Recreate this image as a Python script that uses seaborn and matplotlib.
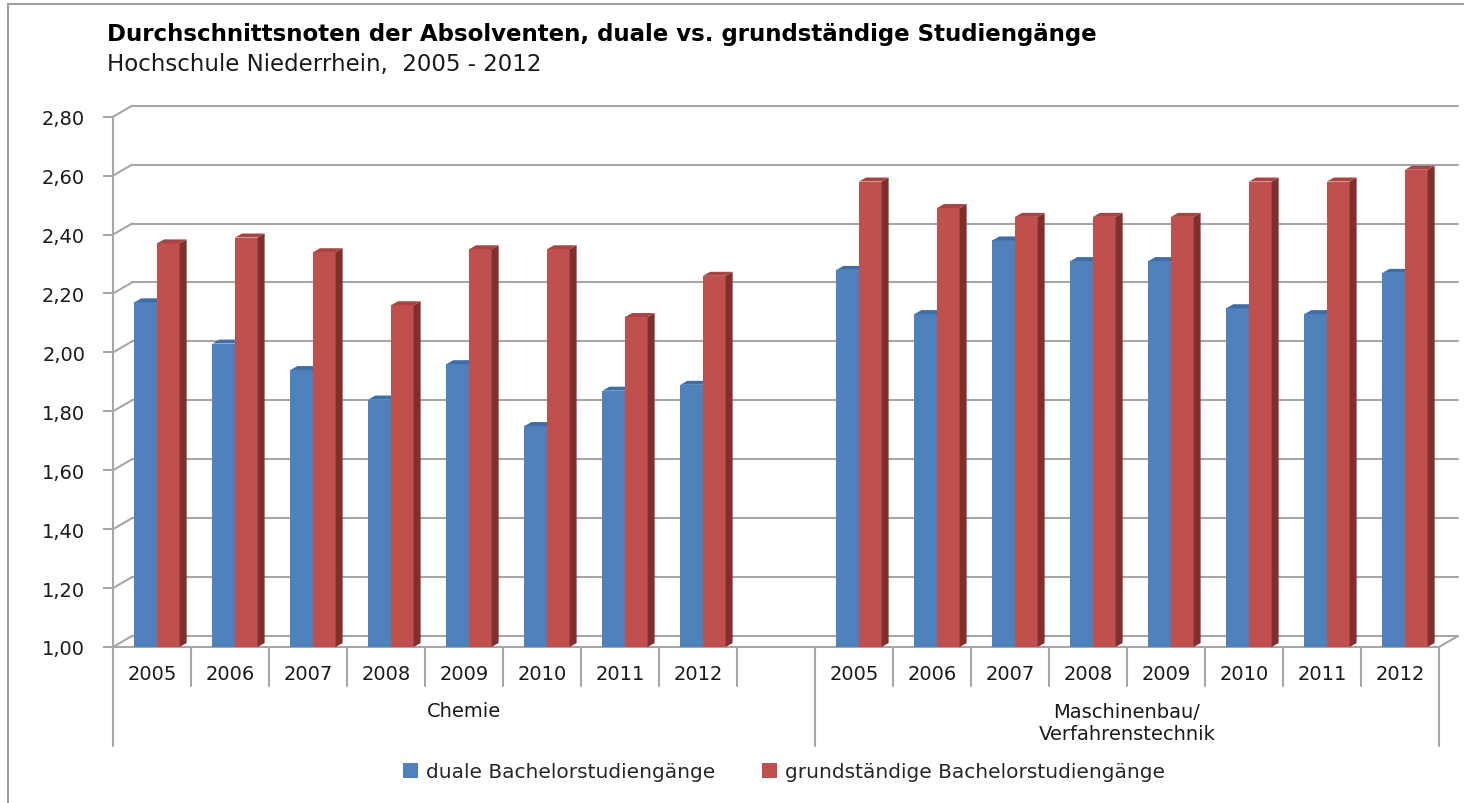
import pandas as pd
import matplotlib
matplotlib.use("Agg")
import matplotlib.pyplot as plt
import seaborn as sns
from matplotlib.patches import Polygon, Patch

# Daten
years = ["2005", "2006", "2007", "2008", "2009", "2010", "2011", "2012"]
programs = ["Chemie", "Maschinenbau/\nVerfahrenstechnik"]
series = ["duale Bachelorstudiengänge", "grundständige Bachelorstudiengänge"]
chemie_dual = [2.17, 2.03, 1.94, 1.84, 1.96, 1.75, 1.87, 1.89]
chemie_grund = [2.37, 2.39, 2.34, 2.16, 2.35, 2.35, 2.12, 2.26]
mb_dual = [2.28, 2.13, 2.38, 2.31, 2.31, 2.15, 2.13, 2.27]
mb_grund = [2.58, 2.49, 2.46, 2.46, 2.46, 2.58, 2.58, 2.62]
y_ticks = [1.0, 1.2, 1.4, 1.6, 1.8, 2.0, 2.2, 2.4, 2.6, 2.8]

colors = ["#4F81BD", "#C0504D"]
side_colors = ["#385D8A", "#7F302E"]
top_colors = ["#3F6EA6", "#A84441"]
grid_col = "#A6A6A6"

# Tabelle fuer seaborn, mit einer leeren Luecke zwischen den Gruppen
rows = []
for p, dual, grund in [(programs[0], chemie_dual, chemie_grund), (programs[1], mb_dual, mb_grund)]:
    for y, a, b in zip(years, dual, grund):
        rows.append({"slot": p + "|" + y, "series": series[0], "value": a})
        rows.append({"slot": p + "|" + y, "series": series[1], "value": b})
df = pd.DataFrame(rows)
order = [programs[0] + "|" + y for y in years] + ["gap"] + [programs[1] + "|" + y for y in years]

# Pixel-Geometrie
W, H = 1464, 804
X0, SLOT, Y0, UNIT = 113, 78.0, 648, 294.6


def px_x(px):
    return px / SLOT


def px_y(px):
    return px / UNIT


def y_of_pix(py):
    return 1.0 + (Y0 - py) / UNIT


sns.set_style("white")
plt.rcParams["font.family"] = ["DejaVu Sans"]

fig = plt.figure(figsize=(W / 100, H / 100), dpi=100)
ax = fig.add_axes([X0 / W, 1 - Y0 / H, 17 * SLOT / W, 1.8 * UNIT / H])

sns.barplot(data=df, x="slot", y="value", hue="series", order=order, hue_order=series,
            palette=colors, saturation=1, width=0.58, legend=False, ax=ax, zorder=3)

ax.set_xlim(-0.5, 16.5)
ax.set_ylim(1.0, 2.8)
for s in ax.spines.values():
    s.set_visible(False)

# 3D-Effekt fuer die Saeulen
ddx, ddy = px_x(7), px_y(4)
shift = px_x(5)
bars = [p for p in ax.patches if p.get_height() > 0]
for p in bars:
    fc = matplotlib.colors.to_hex(p.get_facecolor())
    k = 0 if fc.lower() == colors[0].lower() else 1
    v = p.get_height()
    x0 = p.get_x() + shift
    w = p.get_width()
    p.set_x(x0)
    p.set_y(1.0)
    p.set_height(v - 1.0)
    p.set_edgecolor("none")
    p.set_zorder(3 + k)
    side = Polygon([(x0 + w, 1.0), (x0 + w + ddx, 1.0 + ddy), (x0 + w + ddx, v + ddy), (x0 + w, v)],
                   closed=True, facecolor=side_colors[k], edgecolor="none", zorder=3 + k)
    top = Polygon([(x0, v), (x0 + w, v), (x0 + w + ddx, v + ddy), (x0 + ddx, v + ddy)],
                  closed=True, facecolor=top_colors[k], edgecolor="none", zorder=3 + k)
    ax.add_patch(side)
    ax.add_patch(top)

# Rueckwand-Gitterlinien mit Schraegen
bx, by = px_x(19), px_y(11)
for t in y_ticks:
    ax.plot([-0.5, -0.5 + bx], [t, t + by], color=grid_col, lw=1.5, clip_on=False, zorder=1)
    ax.plot([-0.5 + bx, 16.5 + bx], [t + by, t + by], color=grid_col, lw=1.5, clip_on=False, zorder=1)

# Boden vorne und rechte Schraege
ax.plot([-0.5, 16.5], [1.0, 1.0], color=grid_col, lw=1.5, clip_on=False, zorder=2)
ax.plot([16.5, 16.5 + bx], [1.0, 1.0 + by], color=grid_col, lw=1.5, clip_on=False, zorder=2)

# vordere Achse, reicht bis in den Kategorienbereich
ax.plot([-0.5, -0.5], [2.8, y_of_pix(747)], color=grid_col, lw=1.5, clip_on=False, zorder=2)

# Y-Achse
ax.set_yticks(y_ticks)
ax.set_yticklabels([f"{t:.2f}".replace(".", ",") for t in y_ticks])
ax.tick_params(axis="y", length=7, width=1.5, color=grid_col, pad=13, labelsize=14,
               labelcolor="#1a1a1a", left=True)
ax.set_ylabel("")

# X-Achse: Jahre
ax.set_xticks(range(17))
ax.set_xticklabels(years + [""] + years)
ax.tick_params(axis="x", length=0, pad=12, labelsize=14, labelcolor="#1a1a1a")
ax.set_xlabel("")

# Zellen-Trennlinien
y_short, y_long = y_of_pix(687), y_of_pix(747)
for b in [i + 0.5 for i in range(16)]:
    bottom = y_long if b == 8.5 else y_short
    ax.plot([b, b], [1.0, bottom], color=grid_col, lw=1.5, clip_on=False, zorder=2)
ax.plot([16.5, 16.5], [1.0, y_long], color=grid_col, lw=1.5, clip_on=False, zorder=2)

# Gruppen-Beschriftung
ax.text(4.0, y_of_pix(712), programs[0], ha="center", va="center", fontsize=14, color="#1a1a1a", clip_on=False)
ax.text(12.5, y_of_pix(724), programs[1], ha="center", va="center", fontsize=14, color="#1a1a1a",
        linespacing=1.2, clip_on=False)

# Titel
fig.text(107 / W, 1 - 35 / H, "Durchschnittsnoten der Absolventen, duale vs. grundständige Studiengänge",
         ha="left", va="center", fontsize=16.5, fontweight="bold", color="#000000")
fig.text(107 / W, 1 - 64 / H, "Hochschule Niederrhein,  2005 - 2012",
         ha="left", va="center", fontsize=16.5, color="#1a1a1a")

# Legende
handles = [Patch(facecolor=c, edgecolor="none") for c in colors]
fig.legend(handles, series, loc="center", bbox_to_anchor=(784 / W, 1 - 773 / H), ncol=2,
           frameon=False, fontsize=14.5, handlelength=0.75, handleheight=0.75,
           handletextpad=0.4, columnspacing=2.3)

# Rahmen links und oben
fig.add_artist(matplotlib.lines.Line2D([8 / W, 8 / W], [0, 1 - 5 / H], color="#A0A0A0", lw=1.5))
fig.add_artist(matplotlib.lines.Line2D([8 / W, 1], [1 - 5 / H, 1 - 5 / H], color="#A0A0A0", lw=1.5))

fig.savefig("out.png", dpi=100)
